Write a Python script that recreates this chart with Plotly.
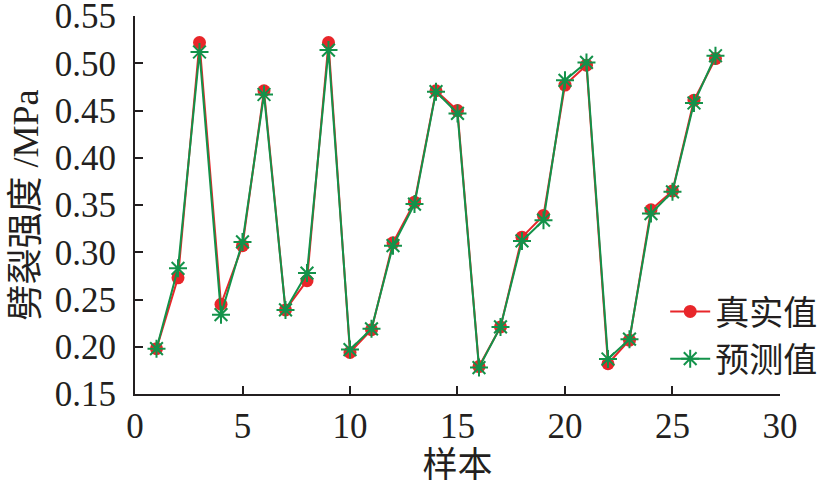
import plotly.graph_objects as go

samples = list(range(1, 28))
real_values = [0.198, 0.273, 0.522, 0.245, 0.307, 0.471, 0.239, 0.270, 0.522, 0.194,
               0.218, 0.310, 0.353, 0.471, 0.450, 0.179, 0.221, 0.316, 0.339, 0.477,
               0.498, 0.182, 0.207, 0.345, 0.365, 0.461, 0.505]
pred_values = [0.198, 0.283, 0.512, 0.234, 0.311, 0.467, 0.239, 0.278, 0.514, 0.197,
               0.219, 0.307, 0.351, 0.470, 0.447, 0.178, 0.221, 0.312, 0.334, 0.482,
               0.501, 0.187, 0.208, 0.341, 0.364, 0.458, 0.508]
series_names = ["真实值", "预测值"]
x_ticks = [0, 5, 10, 15, 20, 25, 30]
y_ticks = [0.15, 0.20, 0.25, 0.30, 0.35, 0.40, 0.45, 0.50, 0.55]

RED = "#e8262a"
GREEN = "#13924a"
FONT = "Liberation Serif, Noto Sans CJK SC, serif"

fig = go.Figure()
fig.add_trace(go.Scatter(
    x=samples, y=real_values, name=series_names[0], mode="lines+markers",
    line=dict(color=RED, width=2),
    marker=dict(symbol="circle", size=13, color=RED),
))
fig.add_trace(go.Scatter(
    x=samples, y=pred_values, name=series_names[1], mode="lines+markers",
    line=dict(color=GREEN, width=2),
    marker=dict(symbol="asterisk-open", size=15, color=GREEN, line=dict(color=GREEN, width=2)),
))

axis_common = dict(
    showline=True, linecolor="#231f20", linewidth=2,
    ticks="inside", ticklen=8, tickwidth=2, tickcolor="#231f20",
    showgrid=False, zeroline=False, mirror=False, automargin=False,
    ticklabeloverflow="allow",
    tickfont=dict(family=FONT, size=35, color="#231f20"),
)

fig.update_layout(
    width=825, height=492,
    margin=dict(l=135, r=45, t=16, b=98, autoexpand=False),
    paper_bgcolor="white", plot_bgcolor="white",
    font=dict(family=FONT, size=34, color="#231f20"),
    xaxis=dict(range=[0, 30.001], tickvals=x_ticks, ticktext=[str(v) for v in x_ticks],
               title=dict(text="样本", font=dict(size=35), standoff=6), **axis_common),
    yaxis=dict(range=[0.15, 0.5501], tickvals=y_ticks, ticktext=[f"{v:.2f}" for v in y_ticks],
               ticklabelstandoff=10,
               title=dict(text="劈裂强度 /MPa", font=dict(size=36), standoff=5), **axis_common),
    legend=dict(x=0.822, y=0.294, xanchor="left", yanchor="top",
                bgcolor="rgba(0,0,0,0)", font=dict(size=34),
                itemwidth=40, tracegroupgap=0),
    showlegend=True,
)

fig.write_html(
    "out.html",
    config={"displayModeBar": False},
    post_script="document.body.style.margin='0';document.body.style.overflow='hidden';",
)
